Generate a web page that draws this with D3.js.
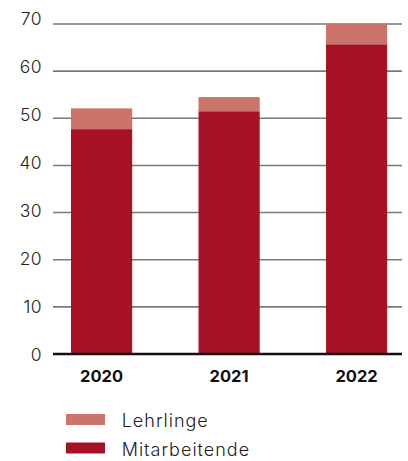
<!DOCTYPE html>
<html>
<head>
<meta charset="utf-8">
<script src="https://cdn.jsdelivr.net/npm/d3@7"></script>
<style>
  html, body { margin: 0; padding: 0; background: #fff; }
  svg { display: block; font-family: Inter, "Open Sans", sans-serif; }
</style>
</head>
<body>
<svg id="chart" width="408" height="461"></svg>
<script>
// Jahre und Werte je Gruppe
const years = ["2020", "2021", "2022"];
const mitarbeitende = [47.7, 51.5, 65.7];
const lehrlinge = [4.4, 3.0, 4.3];
const yTicks = [0, 10, 20, 30, 40, 50, 60, 70];
const seriesNames = ["Lehrlinge", "Mitarbeitende"];

const colors = { Mitarbeitende: "#a81226", Lehrlinge: "#cb7469" };

const svg = d3.select("#chart");

const y = d3.scaleLinear().domain([0, 70]).range([354, 24]);
// Beschriftungen der y-Achse liegen etwas weiter gespreizt als die Gitterlinien
const yLabel = d3.scaleLinear().domain([0, 70]).range([354, 18]);
const x = d3.scaleBand().domain(years)
  .range([37.85, 420.35]).paddingInner(0.52).paddingOuter(0.26);

const gridLeft = 53, gridRight = 402;

// Gitterlinien
svg.append("g").selectAll("line")
  .data(yTicks.filter(d => d > 0))
  .join("line")
  .attr("x1", gridLeft).attr("x2", gridRight)
  .attr("y1", d => y(d)).attr("y2", d => y(d))
  .attr("stroke", "#7a7a7a").attr("stroke-width", 1.6);

// Achsenbeschriftungen links
svg.append("g").selectAll("text")
  .data(yTicks)
  .join("text")
  .attr("x", 42).attr("y", d => yLabel(d))
  .attr("text-anchor", "end").attr("dominant-baseline", "central")
  .attr("font-size", 17.5).attr("font-weight", 300).attr("fill", "#222")
  .attr("letter-spacing", 0.4)
  .text(d => d);

// Gestapelte Balken
const rows = years.map((yr, i) => ({ year: yr, Mitarbeitende: mitarbeitende[i], Lehrlinge: lehrlinge[i] }));
const stack = d3.stack().keys(["Mitarbeitende", "Lehrlinge"])(rows);

svg.append("g").selectAll("g")
  .data(stack)
  .join("g")
  .attr("fill", s => colors[s.key])
  .selectAll("rect")
  .data(s => s)
  .join("rect")
  .attr("x", d => x(d.data.year))
  .attr("width", x.bandwidth())
  .attr("y", d => y(d[1]))
  .attr("height", d => y(d[0]) - y(d[1]));

// Nulllinie
svg.append("line")
  .attr("x1", gridLeft).attr("x2", gridRight)
  .attr("y1", y(0)).attr("y2", y(0))
  .attr("stroke", "#111").attr("stroke-width", 2.6);

// Jahreszahlen
svg.append("g").selectAll("text")
  .data(years)
  .join("text")
  .attr("x", d => x(d) + x.bandwidth() / 2)
  .attr("y", 381.5)
  .attr("text-anchor", "middle")
  .attr("font-size", 16.5).attr("font-weight", 700).attr("fill", "#111")
  .text(d => d);

// Legende
const legend = svg.append("g").selectAll("g")
  .data(seriesNames)
  .join("g")
  .attr("transform", (d, i) => `translate(66, ${414 + i * 28.5})`);

legend.append("rect")
  .attr("width", 39).attr("height", 11)
  .attr("fill", d => colors[d]);

legend.append("text")
  .attr("x", 55.7).attr("y", 13.3)
  .attr("font-size", 18).attr("font-weight", 300).attr("fill", "#222")
  .attr("letter-spacing", 1.0)
  .text(d => d);
</script>
</body>
</html>
